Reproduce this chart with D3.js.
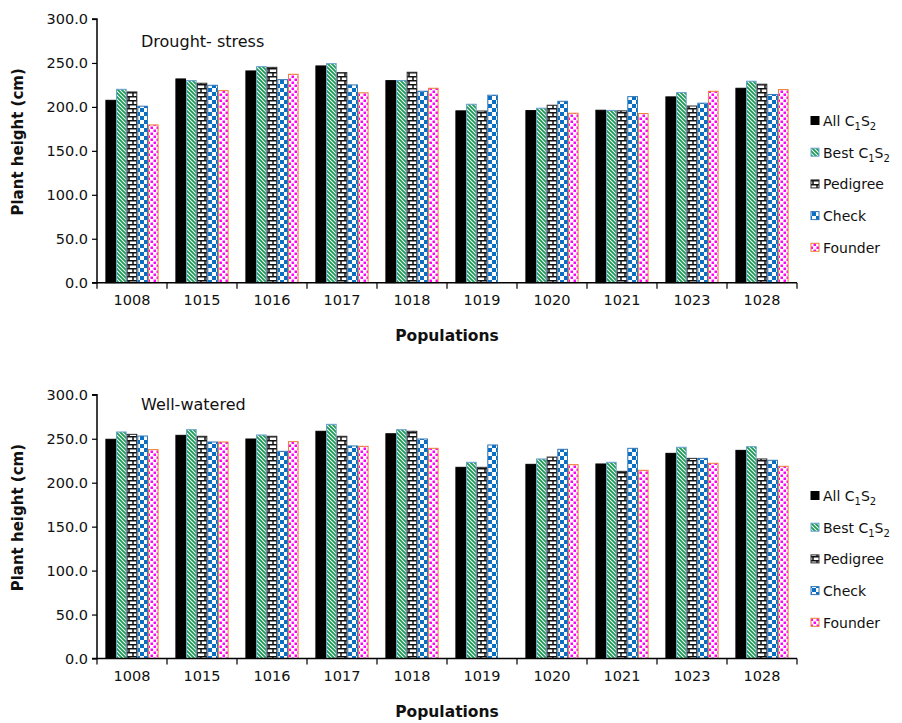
<!DOCTYPE html>
<html>
<head>
<meta charset="utf-8">
<script src="https://cdn.jsdelivr.net/npm/d3@7"></script>
<style>
  html, body { margin: 0; padding: 0; background: #fff; }
  svg { display: block; font-family: "DejaVu Sans", sans-serif; }
</style>
</head>
<body>
<svg id="chart" width="902" height="723"></svg>
<script>
// ---------------- DATA ----------------
const populations = ["1008", "1015", "1016", "1017", "1018", "1019", "1020", "1021", "1023", "1028"];
const seriesKeys = ["all", "best", "pedigree", "check", "founder"];
const yTicks = [0, 50, 100, 150, 200, 250, 300];

// Drought-stress
const droughtAll      = [207.5, 231.8, 240.9, 246.6, 229.9, 195.5, 195.8, 196.2, 211.4, 221.2];
const droughtBest     = [220.0, 229.9, 245.8, 249.2, 230.0, 203.0, 198.5, 196.0, 216.3, 229.2];
const droughtPedigree = [217.0, 226.9, 245.0, 239.0, 239.4, 195.3, 201.9, 195.5, 201.0, 225.8];
const droughtCheck    = [200.8, 224.6, 231.0, 225.0, 217.8, 213.3, 206.4, 211.7, 204.2, 214.0];
const droughtFounder  = [179.5, 218.5, 237.1, 216.0, 221.2, null,  192.8, 192.4, 217.8, 219.7];

// Well-watered
const wellAll      = [249.4, 253.9, 249.7, 258.5, 255.7, 217.5, 220.9, 221.3, 233.4, 236.8];
const wellBest     = [257.7, 260.3, 254.3, 266.4, 260.3, 223.2, 227.0, 223.2, 240.3, 241.0];
const wellPedigree = [255.0, 252.8, 252.8, 252.8, 258.5, 217.5, 229.2, 212.9, 227.7, 227.0];
const wellCheck    = [253.1, 246.3, 235.7, 241.8, 249.7, 242.9, 238.0, 239.1, 227.7, 225.5];
const wellFounder  = [237.6, 246.3, 246.7, 241.4, 239.1, null,  220.5, 214.1, 222.1, 218.7];

// ---------------- STYLES ----------------
const styles = {
  all:      { fill: "#000000",            stroke: "#000000" },
  best:     { fill: "url(#pBest)",        stroke: "#6a9fcf" },
  pedigree: { fill: "url(#pPedigree)",    stroke: "#2a2a2a" },
  check:    { fill: "url(#pCheck)",       stroke: "#2e75b6" },
  founder:  { fill: "url(#pFounder)",     stroke: "#ed7d31" }
};

const svg = d3.select("#chart");
const defs = svg.append("defs");

// green diagonal stripes
const pb = defs.append("pattern").attr("id", "pBest").attr("patternUnits", "userSpaceOnUse")
  .attr("width", 4).attr("height", 4);
pb.append("rect").attr("width", 4).attr("height", 4).attr("fill", "#fff");
pb.append("path").attr("d", "M-1,-1 L5,5 M-1,3 L1,5 M3,-1 L5,1")
  .attr("stroke", "#169b50").attr("stroke-width", 1.8);

// brick
const pp = defs.append("pattern").attr("id", "pPedigree").attr("patternUnits", "userSpaceOnUse")
  .attr("width", 8).attr("height", 8);
pp.append("rect").attr("width", 8).attr("height", 8).attr("fill", "#fff");
pp.append("path").attr("d", "M0,0.75 H8 M0,4.75 H8 M1,0 V4.75 M5,4.75 V8")
  .attr("stroke", "#111").attr("stroke-width", 1.5).attr("fill", "none");

// blue checker
const pc = defs.append("pattern").attr("id", "pCheck").attr("patternUnits", "userSpaceOnUse")
  .attr("width", 8).attr("height", 8);
pc.append("rect").attr("width", 8).attr("height", 8).attr("fill", "#fff");
pc.append("rect").attr("x", 0).attr("y", 0).attr("width", 4).attr("height", 4).attr("fill", "#0a6fc2");
pc.append("rect").attr("x", 4).attr("y", 4).attr("width", 4).attr("height", 4).attr("fill", "#0a6fc2");

// magenta confetti
const pf = defs.append("pattern").attr("id", "pFounder").attr("patternUnits", "userSpaceOnUse")
  .attr("width", 6).attr("height", 6);
pf.append("rect").attr("width", 6).attr("height", 6).attr("fill", "#fff");
[[0.5, 0.5], [3.5, 3.5]].forEach(([x, y]) =>
  pf.append("rect").attr("x", x).attr("y", y).attr("width", 2.5).attr("height", 2.5).attr("fill", "#ff00ff"));

// ---------------- PANELS ----------------
function drawPanel(cfg) {
  const { yTop, yBottom, title, titleY, data } = cfg;
  const xLeft = 97, xRight = 797;
  const g = svg.append("g");

  const x0 = d3.scaleBand().domain(populations).range([xLeft, xRight]).padding(0);
  const pad = x0.bandwidth() * 0.12;
  const x1 = d3.scaleBand().domain(seriesKeys).range([pad, x0.bandwidth() - pad]).padding(0);
  const y = d3.scaleLinear().domain([0, 300]).range([yBottom, yTop]);

  // bars
  seriesKeys.forEach(key => {
    const vals = data[key];
    g.append("g").selectAll("rect")
      .data(populations.map((p, i) => ({ p, v: vals[i] })).filter(d => d.v != null))
      .join("rect")
      .attr("x", d => x0(d.p) + x1(key) + 0.5)
      .attr("y", d => y(d.v))
      .attr("width", x1.bandwidth() - 1)
      .attr("height", d => y(0) - y(d.v))
      .attr("fill", styles[key].fill)
      .attr("stroke", styles[key].stroke)
      .attr("stroke-width", 1);
  });

  // y axis
  const yAxis = d3.axisLeft(y).tickValues(yTicks).tickFormat(d3.format(".1f")).tickSize(5).tickPadding(4);
  const ya = g.append("g").attr("transform", `translate(${xLeft},0)`).call(yAxis);
  ya.select(".domain").attr("stroke", "#000").attr("stroke-width", 1.5).attr("d", `M-5,${yTop}H0V${yBottom}H-5`);
  ya.selectAll(".tick line").attr("stroke", "#000").attr("stroke-width", 1.2);
  ya.selectAll(".tick text").attr("font-size", 14.5).attr("fill", "#111").attr("font-family", "DejaVu Sans");

  // x axis
  const xAxis = d3.axisBottom(x0).tickSize(0).tickPadding(12);
  const xa = g.append("g").attr("transform", `translate(0,${yBottom})`).call(xAxis);
  xa.select(".domain").attr("stroke", "#000").attr("stroke-width", 1.5).attr("d", `M${xLeft},0H${xRight}`);
  xa.selectAll(".tick text").attr("font-size", 14.5).attr("fill", "#111").attr("font-family", "DejaVu Sans");
  // boundary ticks
  const bounds = populations.map(p => x0(p)).concat([xRight]);
  xa.append("g").selectAll("line").data(bounds).join("line")
    .attr("x1", d => d).attr("x2", d => d).attr("y1", 0).attr("y2", 6)
    .attr("stroke", "#000").attr("stroke-width", 1.2);

  // axis titles
  g.append("text").attr("x", 447).attr("y", yBottom + 58).attr("text-anchor", "middle")
    .attr("font-size", 15.5).attr("font-weight", "bold").attr("fill", "#111").text("Populations");
  g.append("text").attr("transform", `translate(23,${(yTop + yBottom) / 2 - 9}) rotate(-90)`)
    .attr("text-anchor", "middle").attr("font-size", 15).attr("font-weight", "bold").attr("fill", "#111")
    .text("Plant height (cm)");

  // panel title
  g.append("text").attr("x", 141).attr("y", titleY).attr("font-size", 16).attr("fill", "#111").text(title);

  // legend
  const legendLabels = {
    all: ["All C", "1", "S", "2"],
    best: ["Best C", "1", "S", "2"],
    pedigree: ["Pedigree"],
    check: ["Check"],
    founder: ["Founder"]
  };
  const lg = g.append("g");
  seriesKeys.forEach((key, i) => {
    const cy = cfg.legendY + i * 31.7;
    lg.append("rect").attr("x", 811).attr("y", cy - 4.5).attr("width", 8).attr("height", 8)
      .attr("fill", styles[key].fill).attr("stroke", styles[key].stroke).attr("stroke-width", 1);
    const t = lg.append("text").attr("x", 823).attr("y", cy + 5).attr("font-size", 14).attr("fill", "#111");
    const parts = legendLabels[key];
    parts.forEach((s, j) => {
      if (j % 2 === 1) {
        t.append("tspan").attr("font-size", 10).attr("dy", 4).text(s);
      } else {
        t.append("tspan").attr("dy", j === 0 ? 0 : -4).text(s);
      }
    });
  });
}

drawPanel({
  yTop: 19, yBottom: 282.7, title: "Drought- stress", titleY: 47, legendY: 121,
  data: { all: droughtAll, best: droughtBest, pedigree: droughtPedigree, check: droughtCheck, founder: droughtFounder }
});
drawPanel({
  yTop: 394.8, yBottom: 658.5, title: "Well-watered", titleY: 410, legendY: 496,
  data: { all: wellAll, best: wellBest, pedigree: wellPedigree, check: wellCheck, founder: wellFounder }
});
</script>
</body>
</html>
